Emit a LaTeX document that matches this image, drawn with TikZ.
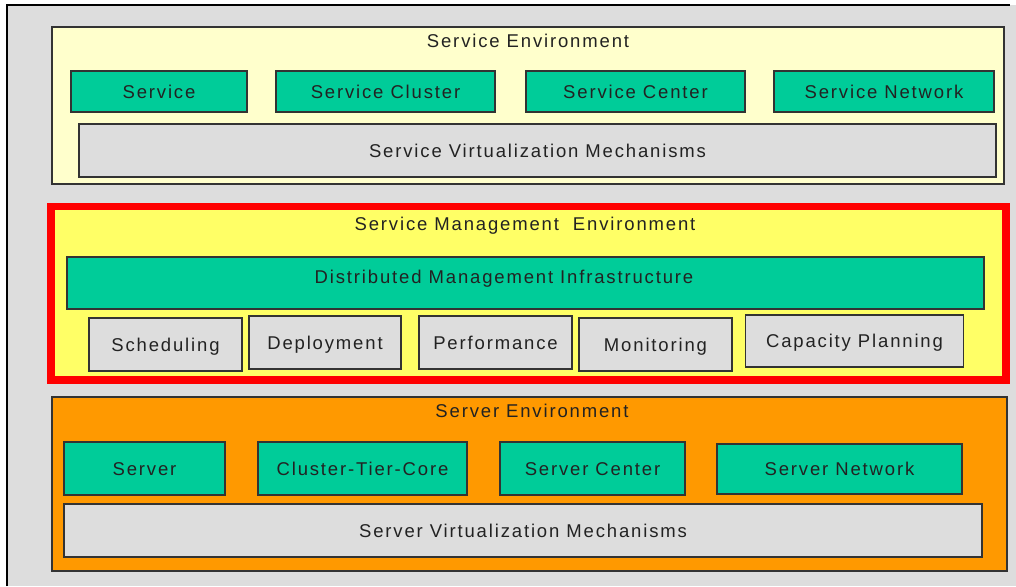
\documentclass[tikz,border=0pt]{standalone}
\usepackage{fontspec}
\setmainfont{Liberation Sans}[LetterSpace=10]
\definecolor{pagegray}{HTML}{DDDDDD}
\definecolor{paleyellow}{HTML}{FFFFCC}
\definecolor{mgmtyellow}{HTML}{FFFF66}
\definecolor{serverorange}{HTML}{FF9900}
\definecolor{tealgreen}{HTML}{00CC99}
\definecolor{boxgray}{HTML}{DDDDDD}
\definecolor{edge}{HTML}{333333}
\definecolor{ink}{HTML}{222222}
\begin{document}
\begin{tikzpicture}[x=1pt,y=-1pt,
  lbl/.style={font=\fontsize{18.5}{20}\selectfont, text=ink, inner sep=0pt,
    text height=13.3pt, text depth=0pt},
  panel/.style={draw=edge, line width=1.3pt, inner sep=0pt, rectangle},
  greenbox/.style={panel, lbl, fill=tealgreen},
  graybox/.style={panel, lbl, fill=boxgray},
]
\useasboundingbox (0,0) rectangle (1016,586);
% page background
\fill[pagegray] (7,5) rectangle (1016,586);
\draw[black, line width=1.3pt] (7,586) -- (7,5) -- (1010,5);

% ---------- Service Environment ----------
\node[panel, fill=paleyellow, minimum width=952pt, minimum height=157pt] (svcenv) at (528,105.5) {};
\node[lbl] (svcenvt) at (528,41) {Service Environment};
\node[greenbox, minimum width=176pt, minimum height=41pt] (svc) at (159,91.5) {Service};
\node[greenbox, minimum width=219pt, minimum height=41pt] (svccl) at (385.5,91.5) {Service Cluster};
\node[greenbox, minimum width=219pt, minimum height=41pt] (svcce) at (635.5,91.5) {Service Center};
\node[greenbox, minimum width=220pt, minimum height=41pt] (svcnet) at (884,91.5) {Service Network};
\node[graybox, minimum width=917pt, minimum height=53pt] (svcvm) at (537.5,150.5) {Service Virtualization Mechanisms};

% ---------- Service Management Environment ----------
\node[draw=red, line width=7.5pt, fill=mgmtyellow, inner sep=0pt, minimum width=955pt, minimum height=173.5pt] (mgmt) at (528.5,293.25) {};
\node[lbl] (mgmtt) at (525,224) {Service Management\ \ Environment};
\node[panel, fill=tealgreen, minimum width=917pt, minimum height=52pt] (dmi) at (525.5,283) {};
\node[lbl] (dmit) at (504,277) {Distributed Management Infrastructure};
\node[graybox, minimum width=153pt, minimum height=53pt] (sched) at (165.5,344.5) {Scheduling};
\node[graybox, minimum width=152pt, minimum height=53pt] (deploy) at (325,342.5) {Deployment};
\node[graybox, minimum width=153pt, minimum height=53pt] (perf) at (495.5,342.5) {Performance};
\node[graybox, minimum width=153pt, minimum height=53pt] (monit) at (655.5,344.5) {Monitoring};
\node[graybox, minimum width=218pt, minimum height=52pt] (capac) at (854.5,341) {Capacity Planning};

% ---------- Server Environment ----------
\node[panel, fill=serverorange, minimum width=955pt, minimum height=174pt] (srvenv) at (529.5,484) {};
\node[lbl] (srvenvt) at (532,410.5) {Server Environment};
\node[greenbox, minimum width=161pt, minimum height=53pt] (srv) at (144.5,468.5) {Server};
\node[greenbox, minimum width=209pt, minimum height=53pt] (ctc) at (362.5,468.5) {Cluster-Tier-Core};
\node[greenbox, minimum width=185pt, minimum height=53pt] (srvce) at (592.5,468.5) {Server Center};
\node[greenbox, minimum width=245pt, minimum height=50pt] (srvnet) at (839.5,469) {Server Network};
\node[graybox, minimum width=918pt, minimum height=53pt] (srvvm) at (523,530.5) {Server Virtualization Mechanisms};
\end{tikzpicture}
\end{document}
